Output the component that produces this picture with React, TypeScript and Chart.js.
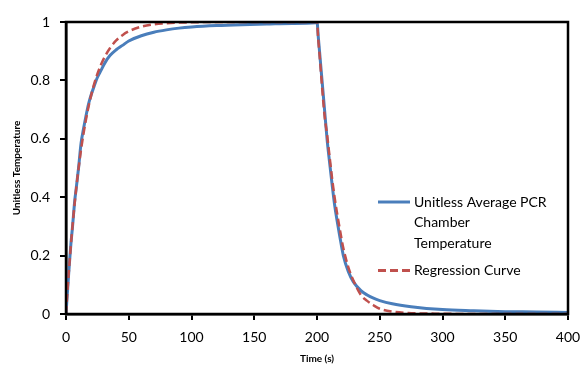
import React, { useEffect, useRef } from "react";
import { Chart, registerables } from "chart.js";

Chart.register(...registerables);

// Sample times (s), shared by both series
const timeSeconds = [
  0, 1, 2, 3, 4, 5, 6, 7, 8, 10, 12, 14, 16, 18, 20, 22, 25, 28, 31, 35, 40, 45, 50, 60, 70, 80, 90,
  100, 120, 140, 160, 180, 199, 200, 201, 202, 203, 204, 206, 208, 210, 212, 214, 216, 218, 221, 225,
  229, 235, 240, 245, 250, 260, 275, 300, 325, 350, 375, 400,
];

// Unitless average PCR chamber temperature
const chamberTemperature = [
  0, 0.065, 0.13, 0.19, 0.245, 0.29, 0.34, 0.39, 0.425, 0.5, 0.585, 0.635, 0.68, 0.72, 0.75, 0.775,
  0.81, 0.835, 0.86, 0.885, 0.905, 0.92, 0.935, 0.953, 0.965, 0.973, 0.979, 0.983, 0.988, 0.991, 0.993,
  0.995, 0.997, 1, 0.95, 0.9, 0.85, 0.8, 0.7, 0.6, 0.52, 0.445, 0.375, 0.32, 0.27, 0.2, 0.145, 0.11,
  0.08, 0.065, 0.054, 0.046, 0.035, 0.025, 0.015, 0.011, 0.008, 0.007, 0.005,
];

// Fitted first-order regression curve
const regressionCurve = [
  0, 0.067, 0.129, 0.187, 0.241, 0.292, 0.339, 0.383, 0.424, 0.498, 0.563, 0.619, 0.668, 0.711, 0.748,
  0.781, 0.822, 0.855, 0.882, 0.91, 0.937, 0.955, 0.968, 0.984, 0.992, 0.996, 0.998, 0.999, 1, 1, 1,
  1, 1, 1, 0.94, 0.89, 0.835, 0.78, 0.68, 0.615, 0.54, 0.465, 0.4, 0.345, 0.295, 0.225, 0.16, 0.115,
  0.065, 0.045, 0.03, 0.018, 0.008, 0.003, 0.001, 0, 0, 0, 0,
];

const xTickValues = [0, 50, 100, 150, 200, 250, 300, 350, 400];
const yTickValues = [0, 0.2, 0.4, 0.6, 0.8, 1];

const chamberLegendLines = ["Unitless Average PCR", "Chamber", "Temperature"];
const regressionLegend = "Regression Curve";
const xTitle = "Time (s)";
const yTitle = "Unitless Temperature";

const BLUE = "#4A7EBB";
const RED = "#C0504D";
const FONT = "Lato, 'Open Sans', 'Liberation Sans', sans-serif";

// Box around the plot area plus an in-plot legend
const frameAndLegend = {
  id: "frameAndLegend",
  afterDraw(chart: any) {
    const { ctx, chartArea } = chart;
    const { left, top, right, bottom } = chartArea;
    ctx.save();
    ctx.strokeStyle = "#000";
    ctx.lineWidth = 2.5;
    ctx.strokeRect(left, top, right - left, bottom - top);

    const sx0 = left + 312;
    const sx1 = left + 344;
    const tx = left + 348;
    const y0 = top + 180;
    ctx.font = `14px ${FONT}`;
    ctx.fillStyle = "#000";
    ctx.textBaseline = "middle";
    ctx.textAlign = "left";

    ctx.strokeStyle = BLUE;
    ctx.lineWidth = 3;
    ctx.beginPath();
    ctx.moveTo(sx0, y0);
    ctx.lineTo(sx1, y0);
    ctx.stroke();
    chamberLegendLines.forEach((line, i) => {
      ctx.fillText(line, tx, y0 + i * 20.5);
    });

    const y1 = y0 + 68.5;
    ctx.strokeStyle = RED;
    ctx.setLineDash([8, 4]);
    ctx.beginPath();
    ctx.moveTo(sx0, y1);
    ctx.lineTo(sx1, y1);
    ctx.stroke();
    ctx.setLineDash([]);
    ctx.fillText(regressionLegend, tx, y1);
    ctx.restore();
  },
};

export default function App() {
  const canvasRef = useRef<HTMLCanvasElement | null>(null);

  useEffect(() => {
    if (!canvasRef.current) return;
    const chamberPoints = timeSeconds.map((t, i) => ({ x: t, y: chamberTemperature[i] }));
    const regressionPoints = timeSeconds.map((t, i) => ({ x: t, y: regressionCurve[i] }));

    const chart = new Chart(canvasRef.current, {
      type: "line",
      data: {
        datasets: [
          {
            label: chamberLegendLines.join(" "),
            data: chamberPoints,
            borderColor: BLUE,
            borderWidth: 3,
            pointRadius: 0,
            cubicInterpolationMode: "monotone",
            fill: false,
            order: 2,
          },
          {
            label: regressionLegend,
            data: regressionPoints,
            borderColor: RED,
            borderWidth: 2.5,
            borderDash: [8, 4],
            pointRadius: 0,
            cubicInterpolationMode: "monotone",
            fill: false,
            order: 1,
          },
        ],
      },
      options: {
        responsive: false,
        animation: false,
        layout: { padding: { top: 22, right: 13, left: 0, bottom: 0 } },
        plugins: {
          legend: { display: false },
          tooltip: { enabled: false },
        },
        scales: {
          x: {
            type: "linear",
            min: 0,
            max: 400,
            afterBuildTicks: (scale: any) => {
              scale.ticks = xTickValues.map((v) => ({ value: v }));
            },
            afterFit: (scale: any) => {
              scale.height = 51;
              scale.paddingLeft = 0;
              scale.paddingRight = 0;
            },
            grid: {
              drawOnChartArea: false,
              drawTicks: true,
              tickLength: 6,
              tickColor: "#000",
              lineWidth: 2,
            },
            border: { display: true, color: "#000", width: 2.5 },
            ticks: {
              color: "#000",
              padding: 9,
              maxRotation: 0,
              font: { family: FONT, size: 14 },
            },
            title: {
              display: true,
              text: xTitle,
              color: "#000",
              font: { family: FONT, size: 10, weight: "bold" },
              padding: { top: 0, bottom: 0 },
            },
          },
          y: {
            type: "linear",
            min: 0,
            max: 1,
            afterBuildTicks: (scale: any) => {
              scale.ticks = yTickValues.map((v) => ({ value: v }));
            },
            afterFit: (scale: any) => {
              scale.width = 66;
              scale.paddingTop = 0;
              scale.paddingBottom = 0;
            },
            grid: {
              drawOnChartArea: false,
              drawTicks: true,
              tickLength: 6,
              tickColor: "#000",
              lineWidth: 2,
            },
            border: { display: true, color: "#000", width: 2.5 },
            ticks: {
              color: "#000",
              padding: 10,
              font: { family: FONT, size: 14 },
              callback: (v: any) => String(Math.round(Number(v) * 10) / 10),
            },
            title: {
              display: true,
              text: yTitle,
              color: "#000",
              font: { family: FONT, size: 10, weight: "bold" },
              padding: { top: 11, bottom: 0 },
            },
          },
        },
      },
      plugins: [frameAndLegend],
    });
    return () => chart.destroy();
  }, []);

  return (
    <div style={{ position: "absolute", left: 0, top: 0, width: 581, height: 365, background: "#fff" }}>
      <canvas ref={canvasRef} width={581} height={365} style={{ display: "block" }} />
    </div>
  );
}
